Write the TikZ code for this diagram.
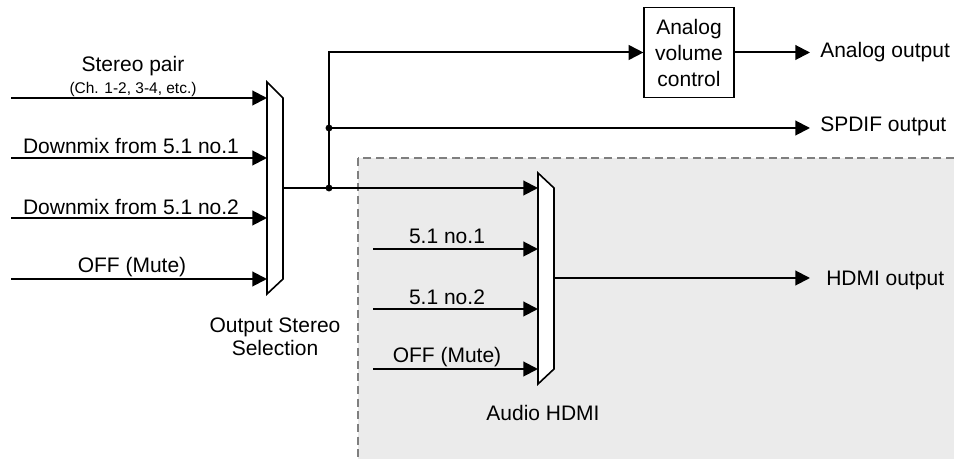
\documentclass[tikz,border=0pt]{standalone}
\usepackage{fontspec}
\setmainfont{Liberation Sans}
\usetikzlibrary{arrows.meta}
\definecolor{zonegray}{HTML}{EBEBEB}
\definecolor{dashgray}{HTML}{7F7F7F}
\tikzset{
  sig/.style={line width=1.5pt, -{Triangle[length=11pt,width=11pt]}},
  wire/.style={line width=1.5pt},
  muxshape/.style={line width=1.2pt, fill=white, line join=miter},
  lbl/.style={font=\fontsize{15.75}{19.5}\selectfont, inner sep=0pt},
  smalllbl/.style={font=\fontsize{11.6}{13}\selectfont, inner sep=0pt},
  outlbl/.style={lbl, anchor=west},
  junction/.style={circle, fill=black, inner sep=0pt, minimum size=5.2pt},
  volbox/.style={draw, line width=0.9pt, fill=white, align=center, inner sep=0pt,
    minimum width=67.5pt, minimum height=68pt, font=\fontsize{15.75}{19.5}\selectfont}
}
\begin{document}
\begin{tikzpicture}[x=0.75pt,y=-0.75pt]
\useasboundingbox (0,0) rectangle (954,459);
% HDMI zone
\begin{scope}
\clip (0,0) rectangle (954,459);
\draw[dashgray, fill=zonegray, line width=0.8pt, dash pattern=on 6pt off 3.5pt] (358,158) rectangle (975,485);
\end{scope}

% mux 1
\draw[muxshape] (267,82) -- (283,98) -- (283,279) -- (267,294) -- cycle;
\coordinate (m1i1) at (267,98);
\coordinate (m1i2) at (267,158);
\coordinate (m1i3) at (267,218);
\coordinate (m1i4) at (267,279);
\coordinate (m1o) at (283,188);

% mux 2
\draw[muxshape] (538,173) -- (554,188) -- (554,369) -- (538,384) -- cycle;
\coordinate (m2i1) at (538,188);
\coordinate (m2i2) at (538,249);
\coordinate (m2i3) at (538,309);
\coordinate (m2i4) at (538,369);
\coordinate (m2o) at (554,278);

% input starts
\coordinate (s1) at (11,98);
\coordinate (s2) at (11,158);
\coordinate (s3) at (11,218);
\coordinate (s4) at (11,279);
\coordinate (h2) at (373,249);
\coordinate (h3) at (373,309);
\coordinate (h4) at (373,369);

% junctions
\node[junction] (j1) at (329,188) {};
\node[junction] (j2) at (329,128) {};

% analog volume box
\node[volbox] (vol) at (689,52.5) {Analog\\volume\\control};

% output ends
\coordinate (oa) at (810,52.5);
\coordinate (os) at (810,128);
\coordinate (oh) at (810,278);

% input labels
\node[lbl] (t1) at (133,66) {Stereo pair};
\node[smalllbl] (t1b) at (133,90) {(Ch. 1-2, 3-4, etc.)};
\node[lbl] (t2) at (131,146) {Downmix from 5.1 no.1};
\node[lbl] (t3) at (131,206.5) {Downmix from 5.1 no.2};
\node[lbl] (t4) at (132,267) {OFF (Mute)};
\node[lbl] (u2) at (447,236) {5.1 no.1};
\node[lbl] (u3) at (447,297) {5.1 no.2};
\node[lbl] (u4) at (447,357) {OFF (Mute)};
\node[lbl, align=center, font=\fontsize{15.75}{17.5}\selectfont] (mx1) at (275,337) {Output Stereo\\Selection};
\node[lbl] (mx2) at (543,413) {Audio HDMI};

% output labels
\node[outlbl] (la) at (820,52.5) {Analog output};
\node[outlbl] (ls) at (820,126.5) {SPDIF output};
\node[outlbl] (lh) at (826,280) {HDMI output};

% connectors
\draw[sig] (s1) -- (m1i1);
\draw[sig] (s2) -- (m1i2);
\draw[sig] (s3) -- (m1i3);
\draw[sig] (s4) -- (m1i4);
\draw[wire] (m1o) -- (j1.center);
\draw[sig] (j1.center) -- (m2i1);
\draw[sig] (j1.center) |- (vol.west);
\draw[sig] (j2.center) -- (os);
\draw[sig] (vol.east) -- (oa);
\draw[sig] (h2) -- (m2i2);
\draw[sig] (h3) -- (m2i3);
\draw[sig] (h4) -- (m2i4);
\draw[sig] (m2o) -- (oh);
\end{tikzpicture}
\end{document}
